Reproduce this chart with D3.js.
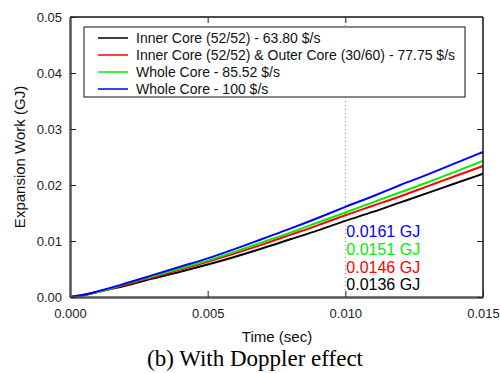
<!DOCTYPE html>
<html>
<head>
<meta charset="utf-8">
<script src="https://cdn.jsdelivr.net/npm/d3@7/dist/d3.min.js"></script>
<style>
  html, body { margin: 0; padding: 0; background: #fff; }
  svg { display: block; }
</style>
</head>
<body>
<svg id="chart" width="500" height="373"></svg>
<script>
// ---- data ----
const time = [0, 0.0005, 0.001, 0.002, 0.003, 0.004, 0.005, 0.006, 0.007, 0.008, 0.009, 0.010, 0.011, 0.012, 0.013, 0.014, 0.015];
const innerCore = [0, 0.0003, 0.0009, 0.0020, 0.0033, 0.0045, 0.0058, 0.0072, 0.0087, 0.0103, 0.0119, 0.0136, 0.0152, 0.0169, 0.0186, 0.0203, 0.0220];
const innerOuterCore = [0, 0.0004, 0.0009, 0.0022, 0.0035, 0.0049, 0.0063, 0.0078, 0.0094, 0.0111, 0.0128, 0.0146, 0.0163, 0.0180, 0.0198, 0.0216, 0.0234];
const wholeCore8552 = [0, 0.0004, 0.0009, 0.0023, 0.0037, 0.0051, 0.0065, 0.0081, 0.0098, 0.0115, 0.0133, 0.0151, 0.0169, 0.0187, 0.0205, 0.0224, 0.0243];
const wholeCore100 = [0, 0.0004, 0.0010, 0.0024, 0.0039, 0.0054, 0.0069, 0.0086, 0.0104, 0.0122, 0.0141, 0.0161, 0.0180, 0.0200, 0.0219, 0.0239, 0.0259];
const seriesNames = [
  "Inner Core (52/52) - 63.80 $/s",
  "Inner Core (52/52) & Outer Core (30/60) - 77.75 $/s",
  "Whole Core - 85.52 $/s",
  "Whole Core - 100 $/s"
];
const seriesColors = ["#000000", "#ff0000", "#00ee00", "#0000ff"];
const annotations = ["0.0136 GJ", "0.0146 GJ", "0.0151 GJ", "0.0161 GJ"];
const xTicks = [0, 0.005, 0.010, 0.015];
const yTicks = [0, 0.01, 0.02, 0.03, 0.04, 0.05];
const markerTime = 0.010;
const xLabel = "Time (sec)";
const yLabel = "Expansion Work (GJ)";
const caption = "(b) With Doppler effect";

// ---- chart ----
const SANS = "Arial, 'Liberation Sans', sans-serif";
const SERIF = "'Times New Roman', 'Liberation Serif', serif";
const svg = d3.select("#chart");
const x = d3.scaleLinear().domain([0, 0.015]).range([70, 483]);
const y = d3.scaleLinear().domain([0, 0.05]).range([297, 17]);

const seriesData = [innerCore, innerOuterCore, wholeCore8552, wholeCore100];

// dotted marker line
svg.append("line")
  .attr("x1", x(markerTime)).attr("x2", x(markerTime))
  .attr("y1", y(0.05)).attr("y2", y(0))
  .attr("stroke", "#888").attr("stroke-width", 1)
  .attr("stroke-dasharray", "1,3");

// lines
const line = d3.line().x((d, i) => x(time[i])).y(d => y(d)).curve(d3.curveMonotoneX);
seriesData.forEach((s, i) => {
  svg.append("path").datum(s)
    .attr("d", line)
    .attr("fill", "none")
    .attr("stroke", seriesColors[i])
    .attr("stroke-width", 2);
});

// frame (top/right)
svg.append("line").attr("x1", x(0)).attr("x2", x(0.015)).attr("y1", y(0.05)).attr("y2", y(0.05))
  .attr("stroke", "#111").attr("stroke-width", 1.5);
svg.append("line").attr("x1", x(0.015)).attr("x2", x(0.015)).attr("y1", y(0.05)).attr("y2", y(0))
  .attr("stroke", "#111").attr("stroke-width", 1.5);

// axes
const fmtX = d3.format(".3f"), fmtY = d3.format(".2f");
const xAxis = svg.append("g").attr("transform", `translate(0,${y(0)})`)
  .call(d3.axisBottom(x).tickValues(xTicks).tickFormat(fmtX).tickSizeInner(-6).tickSizeOuter(0).tickPadding(12));
const yAxis = svg.append("g").attr("transform", `translate(${x(0)},0)`)
  .call(d3.axisLeft(y).tickValues(yTicks).tickFormat(fmtY).tickSizeInner(-6).tickSizeOuter(0).tickPadding(8));
const xTop = svg.append("g").attr("transform", `translate(0,${y(0.05)})`)
  .call(d3.axisTop(x).tickValues(xTicks.slice(1, 3)).tickFormat("").tickSizeInner(-6).tickSizeOuter(0));
const yRight = svg.append("g").attr("transform", `translate(${x(0.015)},0)`)
  .call(d3.axisRight(y).tickValues(yTicks.slice(0, 5)).tickFormat("").tickSizeInner(-6).tickSizeOuter(0));

[xAxis, yAxis].forEach(g => {
  g.attr("font-family", SANS);
  g.select(".domain").attr("stroke", "#555").attr("stroke-width", 2.5);
  g.selectAll(".tick line").attr("stroke", "#222").attr("stroke-width", 1);
  g.selectAll(".tick text").attr("font-size", 13).attr("fill", "#222");
});
[xTop, yRight].forEach(g => {
  g.select(".domain").remove();
  g.selectAll(".tick line").attr("stroke", "#222").attr("stroke-width", 1);
});

// axis titles
svg.append("text").attr("x", 277).attr("y", 342).attr("text-anchor", "middle")
  .attr("font-family", SANS).attr("font-size", 15).attr("fill", "#111").text(xLabel);
svg.append("text").attr("transform", "translate(25,157) rotate(-90)").attr("text-anchor", "middle")
  .attr("font-family", SANS).attr("font-size", 15).attr("fill", "#111").text(yLabel);

// caption
svg.append("text").attr("x", 255).attr("y", 366).attr("text-anchor", "middle")
  .attr("font-family", SERIF)
  .attr("font-size", 23).attr("fill", "#000").text(caption);

// legend
const legend = svg.append("g");
legend.append("rect").attr("x", 84).attr("y", 27).attr("width", 381).attr("height", 70)
  .attr("fill", "#fff").attr("stroke", "#111").attr("stroke-width", 1);
seriesNames.forEach((name, i) => {
  const cy = 38 + i * 17;
  legend.append("line").attr("x1", 98).attr("x2", 128).attr("y1", cy).attr("y2", cy)
    .attr("stroke", seriesColors[i]).attr("stroke-width", 1.5);
  legend.append("text").attr("x", 136).attr("y", cy + 5)
    .attr("font-family", SANS).attr("font-size", 14).attr("fill", "#111").text(name);
});

// annotations at t = 0.010
const annoY = [284, 267.5, 249, 231.5];
annotations.forEach((t, i) => {
  svg.append("text").attr("x", x(markerTime) + 1).attr("y", annoY[i] + 5.5)
    .attr("font-family", SANS).attr("font-size", 16).attr("fill", seriesColors[i]).text(t);
});
</script>
</body>
</html>
